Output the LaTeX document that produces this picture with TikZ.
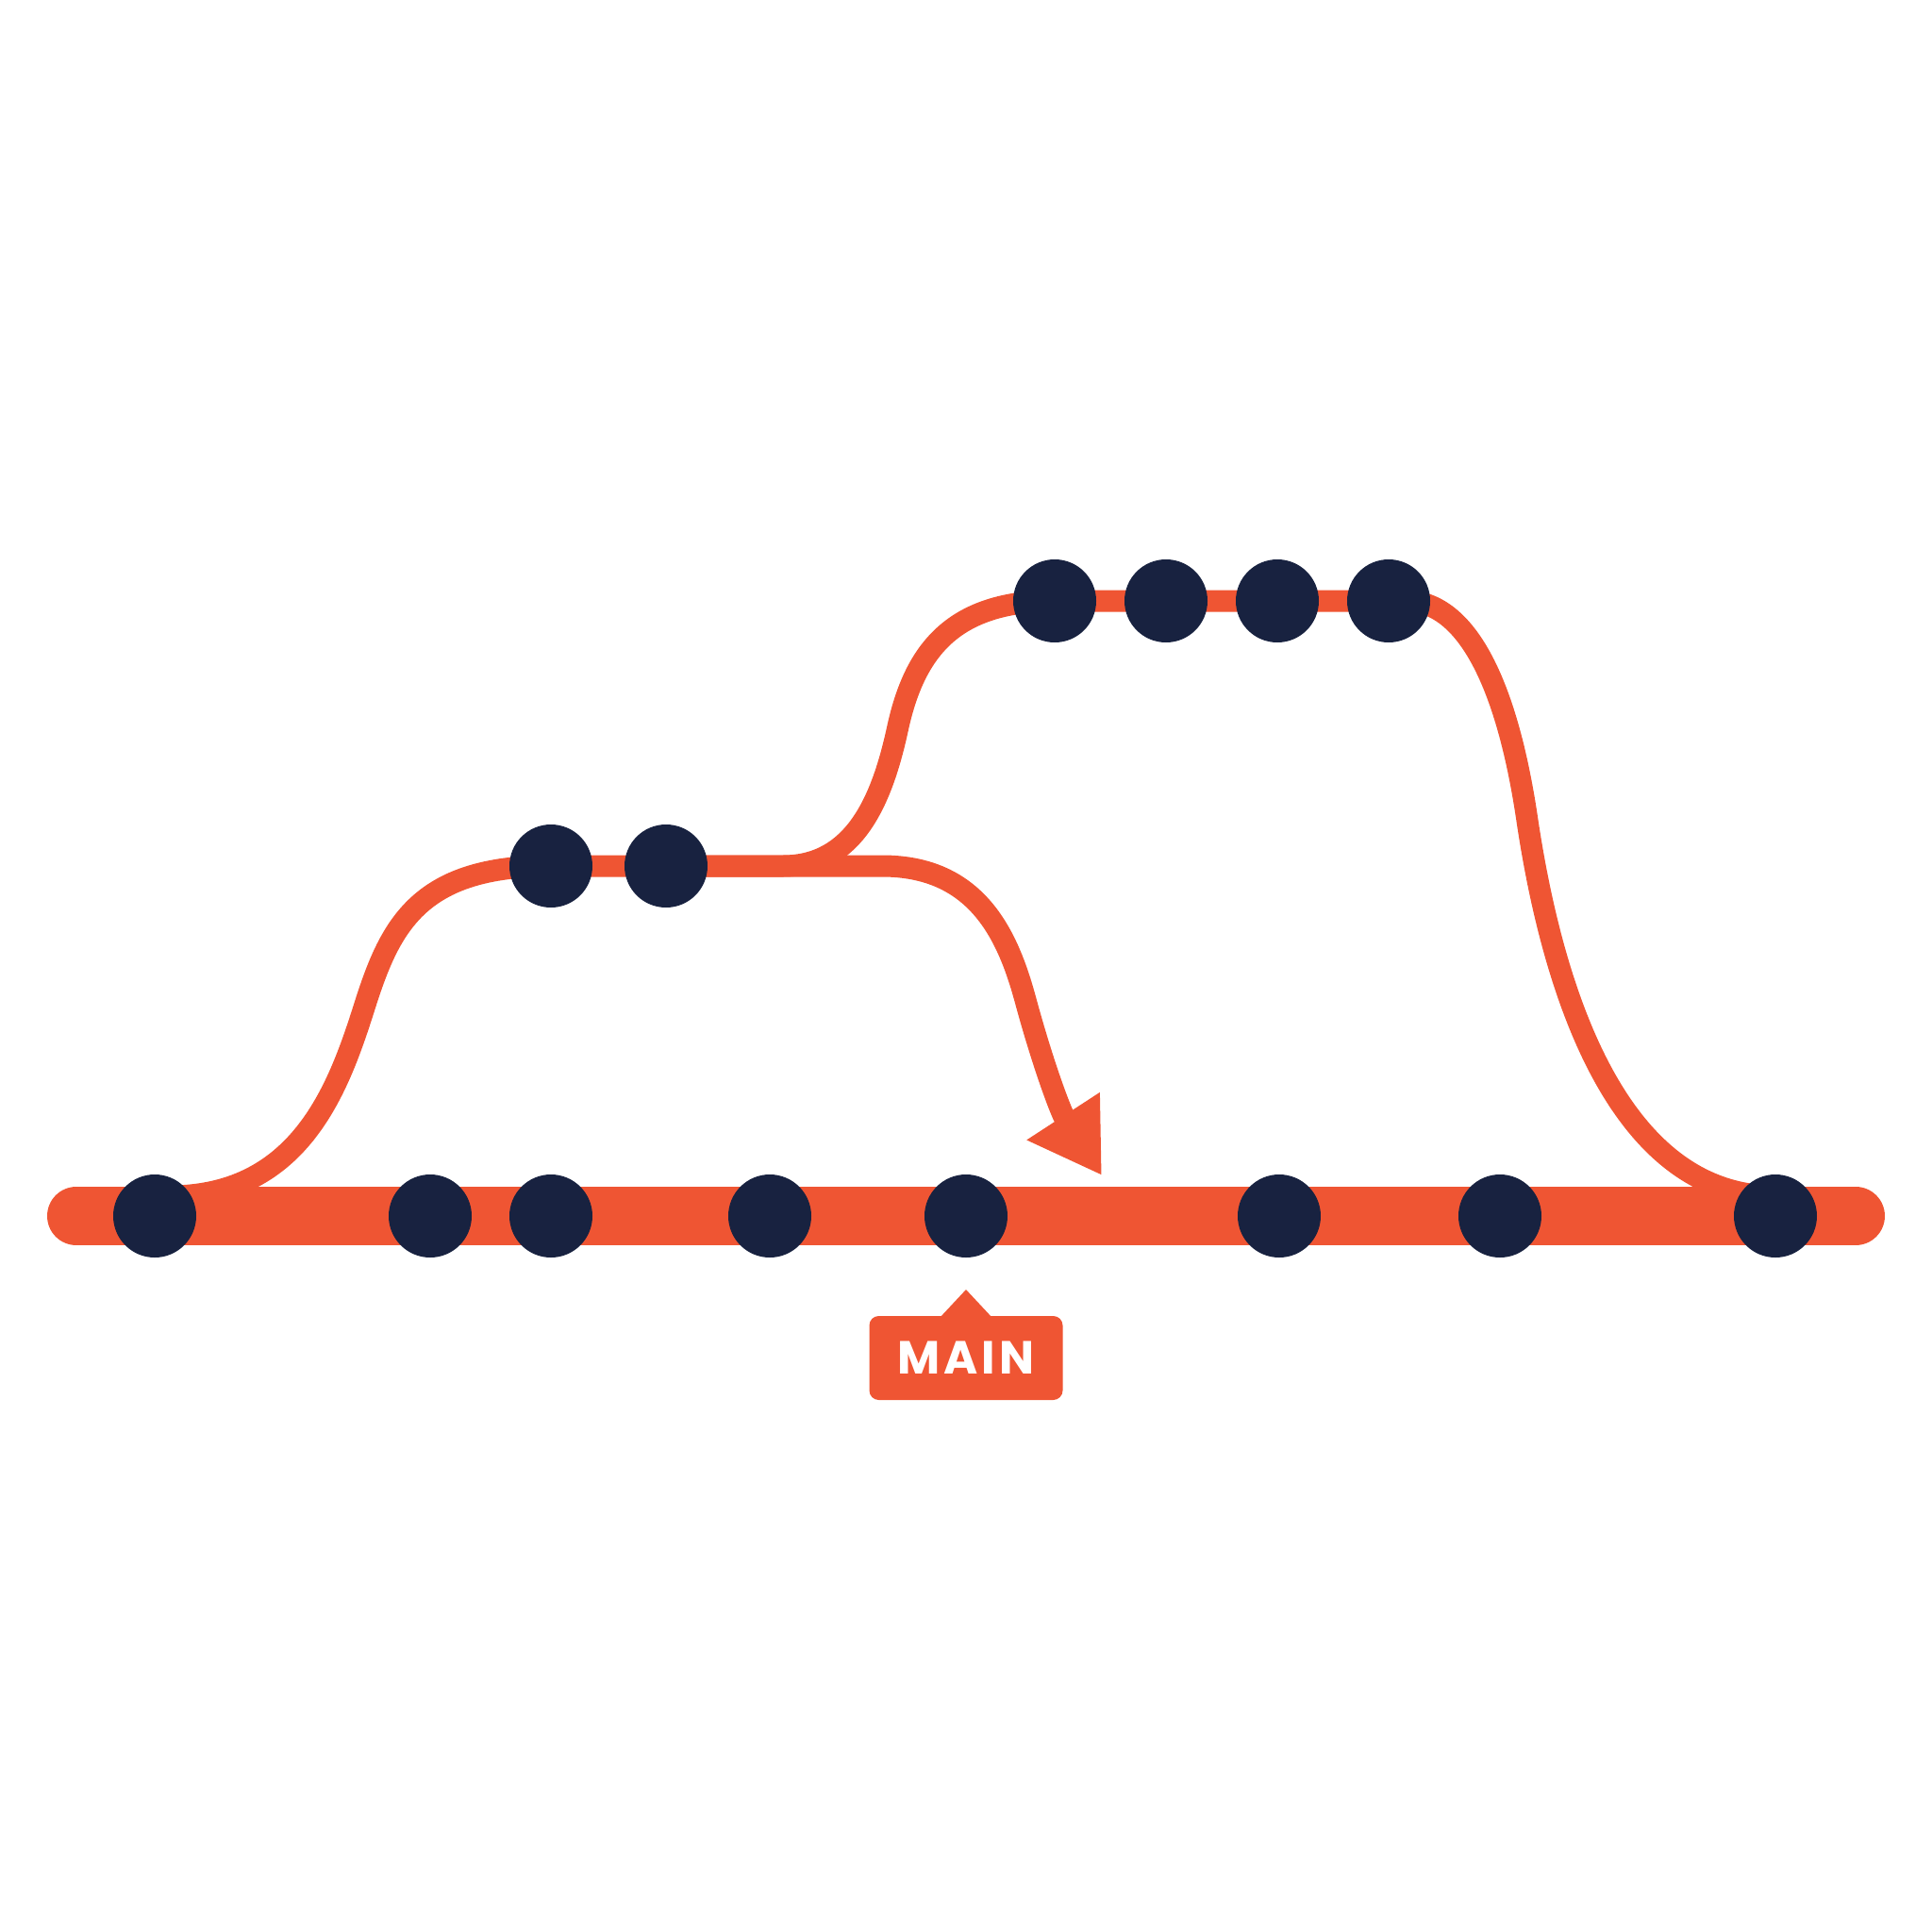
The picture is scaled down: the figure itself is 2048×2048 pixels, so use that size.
\documentclass[tikz,border=0pt]{standalone}
\usepackage{fontspec}
\newfontfamily\tagfont{Poppins}[LetterSpace=8]
\usetikzlibrary{positioning,arrows.meta,backgrounds}
\definecolor{gitorange}{HTML}{EF5533}
\definecolor{gitnavy}{HTML}{182240}
\tikzset{commit node/.style={circle,fill=gitnavy,minimum size=8.8mm,inner sep=0pt,outer sep=0pt},
trunk line/.style={draw=gitorange,line width=6.2mm,line cap=round},
branch line/.style={draw=gitorange,line width=2.3mm,line join=round},
}
\begin{document}
\begin{tikzpicture}[x=0.1mm,y=-0.1mm]
				\useasboundingbox (0,0) rectangle (2048,2048);
				\node[commit node] (M1) at (164,1289) {};
				\node[commit node] (M2) [right=20.4mm of M1] {};
				\node[commit node] (M3) [right=4mm of M2] {};
				\node[commit node] (M4) [right=14.4mm of M3] {};
				\node[commit node] (M5) [right=12mm of M4] {};
				\node[commit node] (M6) [right=24.4mm of M5] {};
				\node[commit node] (M7) [right=14.6mm of M6] {};
				\node[commit node] (M8) [right=20.4mm of M7] {};
				
				\node[commit node] (F1a) at (584,918) {};
				\node[commit node] (F1b) [right=3.4mm of F1a] {};
				
				\node[commit node] (F2a) at (1118,637) {};
				\node[commit node] (F2b) [right=3mm of F2a] {};
				\node[commit node] (F2c) [right=3mm of F2b] {};
				\node[commit node] (F2d) [right=3mm of F2c] {};
				
				\node[fill=gitorange,text=white,rounded corners=1mm,minimum width=20.5mm,minimum height=8.9mm,outer sep=0pt,
				font=\tagfont\bfseries\fontsize{14pt}{14pt}\selectfont] (tag) [below=6.2mm of M5] {MAIN};
				\fill[gitorange] ([xshift=-2.8mm,yshift=-0.2mm]tag.north) -- ([yshift=2.8mm]tag.north)
				-- ([xshift=2.8mm,yshift=-0.2mm]tag.north) -- cycle;
				
				\coordinate (tip) at (1168,1246);
				
				\begin{scope}[on background layer]
				\draw[trunk line] ([xshift=-8.3mm]M1.center) -- ([xshift=8.5mm]M8.center);
				\draw[branch line,-{Triangle[length=7.5mm,width=8.7mm]}]
				([xshift=1.6mm,yshift=2.1mm]M1.center) .. controls (320,1268) and (360,1150) .. (387,1065)
				.. controls (414,980) and (445,918) .. (F1a.center) -- (F1b.center) -- (935,918)
				.. controls (1035,918) and (1068,990) .. (1087,1060)
				.. controls (1106,1130) and (1125,1180) .. (tip);
				\draw[branch line]
				(F1b.center) -- (830,918) .. controls (905,918) and (935,850) .. (952,770)
				.. controls (970,690) and (1010,637) .. (F2a.center) -- (F2d.center) -- (1490,637)
				.. controls (1560,637) and (1600,740) .. (1619,870)
				.. controls (1640,1010) and (1700,1268) .. ([yshift=2.1mm]M8.center);
				\end{scope}
			\end{tikzpicture}
\end{document}
